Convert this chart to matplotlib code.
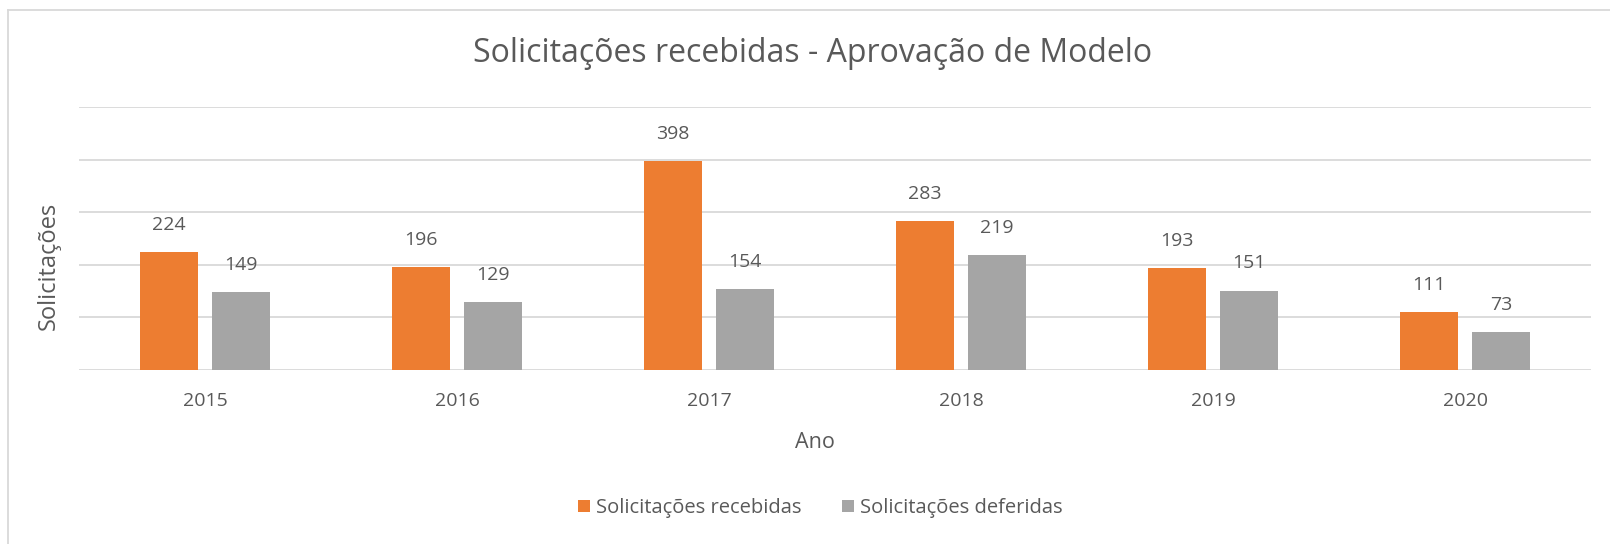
import numpy as np
import matplotlib
matplotlib.use("Agg")
import matplotlib.pyplot as plt
from matplotlib.lines import Line2D

anos = ["2015", "2016", "2017", "2018", "2019", "2020"]
recebidas = [224, 196, 398, 283, 193, 111]
deferidas = [149, 129, 154, 219, 151, 73]

plt.rcParams['font.family'] = ['Open Sans', 'DejaVu Sans']
txt = '#595959'
laranja = '#ED7D31'
cinza = '#A5A5A5'

fig = plt.figure(figsize=(16.1, 5.44), dpi=100)
W, H = 1610, 544
# plot area in pixels: x 79..1591, y 107..370
ax = fig.add_axes([79 / W, 1 - 370 / H, (1591 - 79) / W, (370 - 107) / H])

x = np.arange(len(anos))
w = 0.23
b1 = ax.bar(x - 0.143, recebidas, w, color=laranja, label='Solicitações recebidas', zorder=3)
b2 = ax.bar(x + 0.143, deferidas, w, color=cinza, label='Solicitações deferidas', zorder=3)

for bars in (b1, b2):
    for r in bars:
        ax.annotate(str(int(r.get_height())), (r.get_x() + r.get_width() / 2, r.get_height()),
                    xytext=(0, 19.5), textcoords='offset points', ha='center', va='center',
                    fontsize=14, color=txt)

ax.set_xlim(-0.5, len(anos) - 0.5)
ax.set_ylim(0, 500)
ax.set_yticks(range(0, 501, 100))
ax.yaxis.grid(True, color='#D9D9D9', linewidth=1.3, zorder=0)
ax.tick_params(axis='y', left=False, labelleft=False)
ax.tick_params(axis='x', bottom=False, labelsize=14, colors=txt, pad=12)
ax.set_xticks(x)
ax.set_xticklabels(anos)
for s in ax.spines.values():
    s.set_visible(False)

fig.text(813 / W, 1 - 53 / H, 'Solicitações recebidas - Aprovação de Modelo',
         ha='center', va='center', fontsize=23, color=txt)
fig.text(815 / W, 1 - 443 / H, 'Ano', ha='center', va='center', fontsize=15.5, color=txt)
fig.text(49 / W, 1 - 266 / H, 'Solicitações', ha='center', va='center', rotation=90,
         fontsize=17, color=txt)

fig.legend(handles=[b1, b2], loc='center', bbox_to_anchor=(820 / W, 1 - 508 / H), ncol=2,
           frameon=False, fontsize=14.5, labelcolor=txt, handlelength=0.6, handleheight=0.6,
           handletextpad=0.3, columnspacing=2.0)

# chart frame
fig.add_artist(Line2D([8 / W, 1], [1 - 10 / H, 1 - 10 / H], color='#D9D9D9', lw=1.3))
fig.add_artist(Line2D([8 / W, 8 / W], [0, 1 - 10 / H], color='#D9D9D9', lw=1.3))

fig.savefig('out.png', dpi=100, facecolor='white')
